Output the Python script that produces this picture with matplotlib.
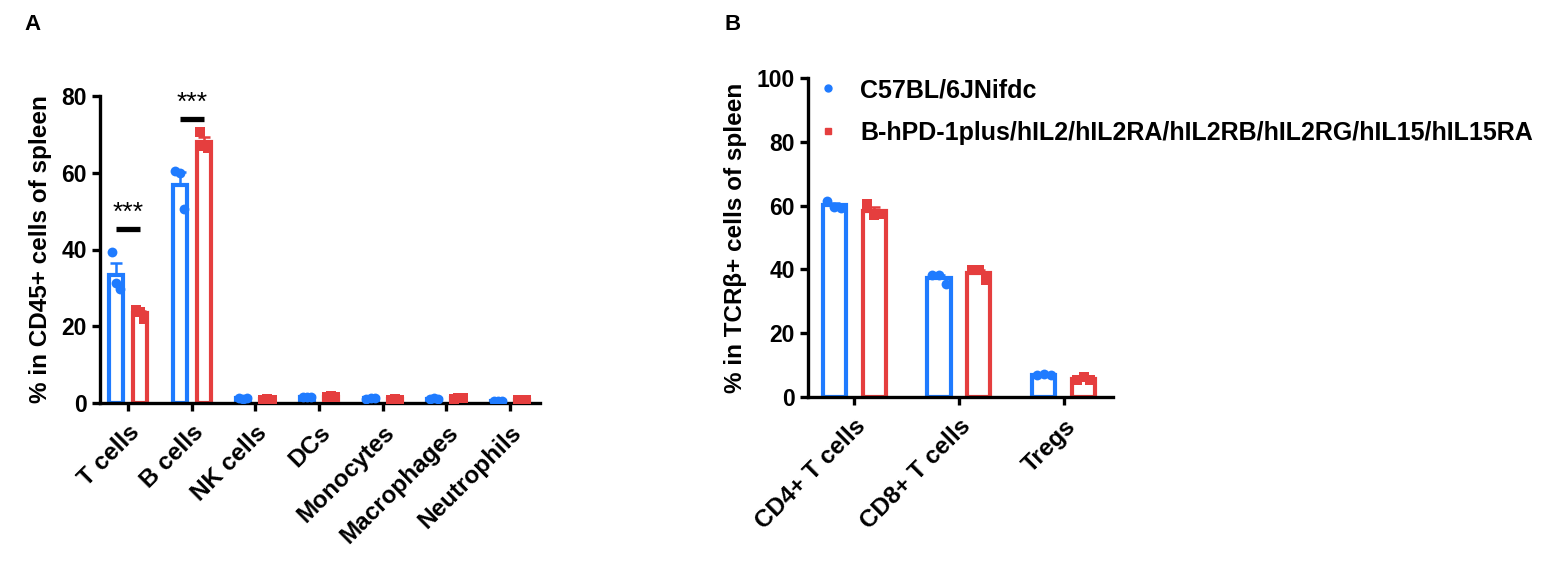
import numpy as np
import matplotlib
matplotlib.use("Agg")
import matplotlib.pyplot as plt
from matplotlib.lines import Line2D

plt.rcParams['font.family'] = ['Liberation Sans', 'DejaVu Sans']
plt.rcParams['font.weight'] = 'bold'

BLUE = '#1F7BFF'
RED = '#E53E3E'

groups = ['C57BL/6JNifdc', 'B-hPD-1plus/hIL2/hIL2RA/hIL2RB/hIL2RG/hIL15/hIL15RA']

# panel A: % in CD45+ cells of spleen (3 mice per group)
cells_a = ['T cells', 'B cells', 'NK cells', 'DCs', 'Monocytes', 'Macrophages', 'Neutrophils']
wt_a = [
    [39.3, 31.3, 29.7],
    [60.4, 59.9, 50.5],
    [1.3, 1.1, 1.2],
    [1.5, 1.5, 1.6],
    [1.1, 1.3, 1.2],
    [1.1, 1.2, 1.0],
    [0.4, 0.6, 0.5],
]
mut_a = [
    [24.3, 23.8, 22.0],
    [70.6, 67.0, 66.4],
    [0.9, 1.0, 0.9],
    [1.5, 1.8, 1.6],
    [0.9, 1.0, 0.9],
    [1.1, 1.3, 1.2],
    [0.8, 0.8, 0.7],
]
# significance marks: (category index, text, bar height)
sig_a = [(0, '***', 45.3), (1, '***', 74.0)]

# panel B: % in TCRb+ cells of spleen
cells_b = ['CD4+ T cells', 'CD8+ T cells', 'Tregs']
wt_b = [
    [61.3, 59.6, 59.4],
    [38.3, 38.1, 35.4],
    [7.0, 7.1, 6.9],
]
mut_b = [
    [60.6, 57.2, 57.3],
    [39.9, 39.8, 36.6],
    [5.3, 6.4, 5.3],
]


def draw_panel(ax, cats, wt, mut, ymax, ystep, ylabel):
    x = np.arange(len(cats))
    off = 0.19
    w = 0.22
    for vals, sign, col, mk in [(wt, -1, BLUE, 'o'), (mut, 1, RED, 's')]:
        arr = np.array(vals)
        mean = arr.mean(axis=1)
        sem = arr.std(axis=1, ddof=1) / np.sqrt(arr.shape[1])
        xp = x + sign * off
        ax.bar(xp, mean, width=w, facecolor='white', edgecolor=col, linewidth=3.0, zorder=2)
        ax.errorbar(xp, mean, yerr=[np.zeros_like(sem), sem], fmt='none', ecolor=col,
                    elinewidth=1.8, capsize=4.5, capthick=1.8, zorder=3)
        jit = np.array([-0.065, 0.0, 0.065])
        for i in range(len(cats)):
            ax.scatter(xp[i] + jit, arr[i], s=50, marker=mk, color=col, zorder=4, linewidths=0)
    ax.set_xlim(-0.44, len(cats) - 0.53)
    ax.set_ylim(0, ymax)
    ax.set_yticks(np.arange(0, ymax + 1, ystep))
    ax.set_xticks(x)
    ax.set_xticklabels(cats, rotation=45, ha='right', rotation_mode='anchor', fontsize=17.5)
    ax.tick_params(axis='both', width=2.4, length=6, labelsize=16.5)
    ax.tick_params(axis='x', pad=7, labelsize=17.5)
    ax.set_ylabel(ylabel, fontsize=17.5, fontweight='bold', labelpad=7)
    for s in ['top', 'right']:
        ax.spines[s].set_visible(False)
    for s in ['left', 'bottom']:
        ax.spines[s].set_linewidth(2.4)


fig = plt.figure(figsize=(15.62, 5.79), dpi=100)
axA = fig.add_axes([100 / 1562, 1 - 403 / 579, 440 / 1562, 307 / 579])
axB = fig.add_axes([808 / 1562, 1 - 397 / 579, 305 / 1562, 319 / 579])

draw_panel(axA, cells_a, wt_a, mut_a, 80, 20, '% in CD45+ cells of spleen')
draw_panel(axB, cells_b, wt_b, mut_b, 100, 20, '% in TCR\u03b2+ cells of spleen')

for i, txt, h in sig_a:
    axA.plot([i - 0.19, i + 0.19], [h, h], color='black', lw=3.8, solid_capstyle='butt', zorder=5)
    axA.text(i, h + 1.0, txt, ha='center', va='bottom', fontsize=19, fontweight='normal')

handles = [Line2D([], [], marker='o', color=BLUE, ls='none', markersize=5),
           Line2D([], [], marker='s', color=RED, ls='none', markersize=5)]
fig.legend(handles, groups, loc='upper left', bbox_to_anchor=(815 / 1562, 1 - 78 / 579),
           frameon=False, handlelength=1.0, handletextpad=0.8,
           labelspacing=0.75, borderpad=0, borderaxespad=0, prop={'weight': 'bold', 'size': 18})

fig.text(24 / 1562, 1 - 25 / 579, 'A', fontsize=16, fontweight='bold', va='center')
fig.text(724 / 1562, 1 - 25 / 579, 'B', fontsize=16, fontweight='bold', va='center')

fig.savefig('out.png', dpi=100)
